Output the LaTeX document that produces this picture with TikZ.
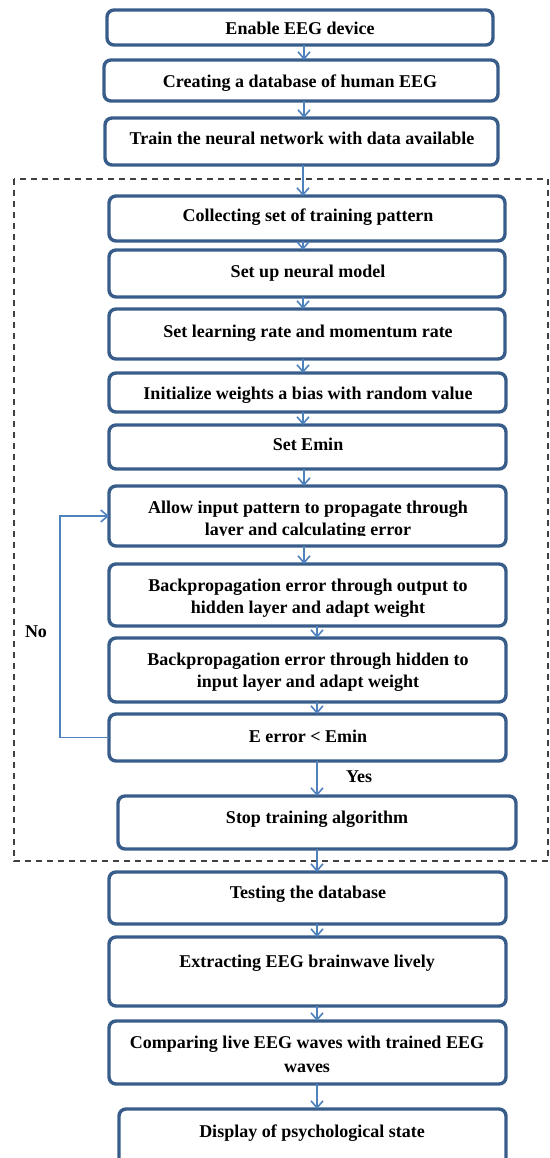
\documentclass[tikz,border=0pt]{standalone}
\usepackage{fontspec}
\setmainfont{Liberation Serif}
\usetikzlibrary{arrows.meta}
\definecolor{boxblue}{RGB}{56,93,138}
\definecolor{arrblue}{RGB}{79,129,189}
\definecolor{dashgray}{RGB}{64,64,64}
\begin{document}
\begin{tikzpicture}[x=1pt,y=-1pt,
  box/.style={draw=boxblue, line width=3.4pt, rounded corners=7pt, inner sep=0pt, outer sep=0pt, fill=white},
  lbl/.style={font=\bfseries\fontsize{18}{22}\selectfont, anchor=base, inner sep=0pt, text=black},
  arr/.style={draw=arrblue, line width=1.6pt, -{Straight Barb[length=7pt,width=12pt,line width=1.6pt]}},
  dashbox/.style={draw=dashgray, line width=1.2pt, dash pattern=on 6pt off 5pt}
]
\clip (0,0) rectangle (549,1158);
% dashed frame
\draw[dashbox] (14,179) rectangle (548,861);
% boxes
\node[box, minimum width=386pt, minimum height=35pt] (b1) at (300,27.5) {};
\node[box, minimum width=394pt, minimum height=41pt] (b2) at (301,80.5) {};
\node[box, minimum width=393pt, minimum height=47pt] (b3) at (301.5,141.5) {};
\node[box, minimum width=396pt, minimum height=45pt] (b4) at (307,218.5) {};
\node[box, minimum width=396pt, minimum height=47pt] (b5) at (307,273.5) {};
\node[box, minimum width=396pt, minimum height=50pt] (b6) at (307,334) {};
\node[box, minimum width=397pt, minimum height=39pt] (b7) at (307.5,392.5) {};
\node[box, minimum width=397pt, minimum height=44pt] (b8) at (307.5,447) {};
\node[box, minimum width=397pt, minimum height=60pt] (b9) at (307.5,516) {};
\node[box, minimum width=397pt, minimum height=62pt] (b10) at (307.5,595) {};
\node[box, minimum width=397pt, minimum height=64pt] (b11) at (307.5,670) {};
\node[box, minimum width=397pt, minimum height=47pt] (b12) at (307.5,737.5) {};
\node[box, minimum width=398pt, minimum height=53pt] (b13) at (317,822.5) {};
\node[box, minimum width=397pt, minimum height=52pt] (b14) at (307.5,898) {};
\node[box, minimum width=397pt, minimum height=69pt] (b15) at (307.5,971.5) {};
\node[box, minimum width=397pt, minimum height=63pt] (b16) at (307.5,1052.5) {};
\node[box, minimum width=387pt, minimum height=56pt] (b17) at (312.5,1137) {};
% texts
\node[lbl] (t1) at (300,35) {Enable EEG device};
\node[lbl] (t2) at (300,88) {Creating a database of human EEG};
\node[lbl] (t3) at (302,145) {Train the neural network with data available};
\node[lbl] (t4) at (308,222) {Collecting set of training pattern};
\node[lbl] (t5) at (308,277) {Set up neural model};
\node[lbl] (t6) at (308,337) {Set learning rate and momentum rate};
\node[lbl] (t7) at (308,399) {Initialize weights a bias with random value};
\node[lbl] (t8) at (308,450) {Set Emin};
\begin{scope}
\clip (110,488) rectangle (505,535.5);
\node[lbl] (t9a) at (308,513) {Allow input pattern to propagate through};
\node[lbl] (t9b) at (308,535) {layer and calculating error};
\end{scope}
\node[lbl] (t10a) at (308,591) {Backpropagation error through output to};
\node[lbl] (t10b) at (308,613) {hidden layer and adapt weight};
\node[lbl] (t11a) at (308,665) {Backpropagation error through hidden to};
\node[lbl] (t11b) at (308,687) {input layer and adapt weight};
\node[lbl] (t12) at (308,742) {E error < Emin};
\node[lbl] (t13) at (317,823) {Stop training algorithm};
\node[lbl] (t14) at (308,898) {Testing the database};
\node[lbl] (t15) at (307,967) {Extracting EEG brainwave lively};
\node[lbl] (t16a) at (307,1048) {Comparing live EEG waves with trained EEG};
\node[lbl] (t16b) at (307,1072) {waves};
\node[lbl] (t17) at (312,1137) {Display of psychological state};
\node[lbl] (yes) at (359,782) {Yes};
\node[lbl] (no) at (36,637) {No};
% arrow columns
\coordinate (xa) at (304,0);
\coordinate (xb) at (303,0);
\coordinate (xc) at (317,0);
\draw[arr] (b1.south -| xa) -- (b2.north -| xa);
\draw[arr] (b2.south -| xa) -- (b3.north -| xa);
\draw[arr] (b3.south -| xb) -- (b4.north -| xb);
\draw[arr] (b4.south -| xb) -- (b5.north -| xb);
\draw[arr] (b5.south -| xb) -- (b6.north -| xb);
\draw[arr] (b6.south -| xb) -- (b7.north -| xb);
\draw[arr] (b7.south -| xb) -- (b8.north -| xb);
\draw[arr] (b8.south -| xa) -- (b9.north -| xa);
\draw[arr] (b9.south -| xa) -- (b10.north -| xa);
\draw[arr] (b10.south -| xc) -- (b11.north -| xc);
\draw[arr] (b11.south -| xc) -- (b12.north -| xc);
\draw[arr] (b12.south -| xc) -- (b13.north -| xc);
\draw[arr] (b13.south -| xc) -- (b14.north -| xc);
\draw[arr] (b14.south -| xc) -- (b15.north -| xc);
\draw[arr] (b15.south -| xc) -- (b16.north -| xc);
\draw[arr] (b16.south -| xc) -- (b17.north -| xc);
% loop back
\coordinate (lp) at (60,0);
\draw[arr] (b12.west) -- (b12.west -| lp) -- (b9.west -| lp) -- (b9.west);
\end{tikzpicture}
\end{document}
